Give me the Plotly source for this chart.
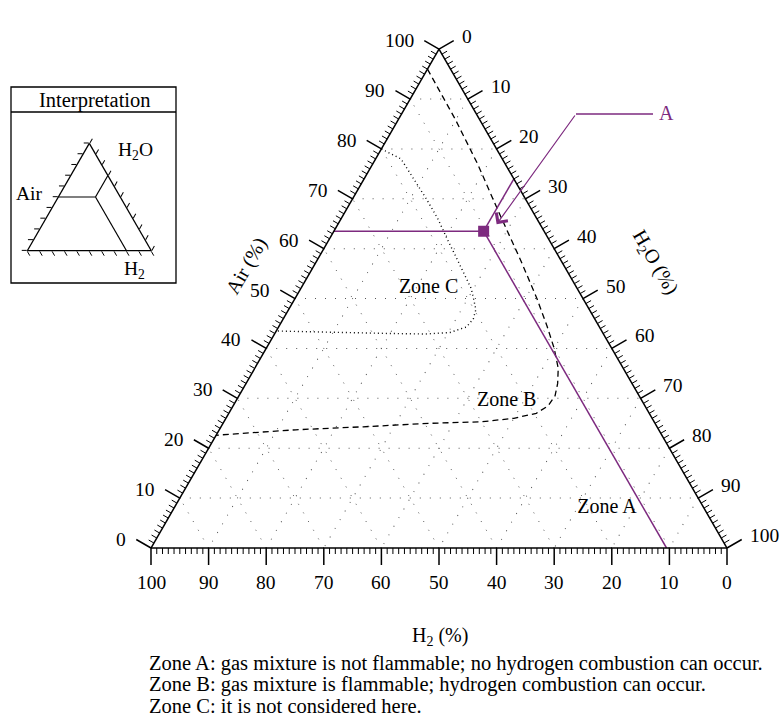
import math
import plotly.graph_objects as go

FIG_W, FIG_H = 781, 718
FONT = "Liberation Serif"
PURPLE = "#7d2a7f"

# Zone B (flammable) boundary: Air % and H2 % (H2O makes up the rest)
zone_b_air = [96, 86, 77, 67, 57.5, 50, 44.5, 40, 36, 33, 30.5, 28.5, 27, 26, 25.3, 25, 24.3, 23.7, 22.8, 22.6]
zone_b_h2 = [4.0, 4.2, 4.8, 6.0, 7.0, 8.0, 9.0, 10.0, 11.3, 12.9, 14.6, 16.8, 19.6, 24, 30, 39, 51, 63, 75, 77.4]

# Zone C boundary: Air % and H2 %
zone_c_air = [80, 78, 74, 70, 66, 62, 58, 54.5, 52, 49.7, 47.8, 45.9, 44.3, 43.2, 42.9, 43.0, 43.5]
zone_c_h2 = [20, 17.6, 17.4, 17.2, 17.2, 17.6, 17.9, 18.2, 18.4, 19.1, 19.7, 21.1, 23.1, 26.5, 31, 37, 56.5]

# Operating point A
point_air = 63.5
point_h2 = 10.5

# Example point of the interpretation sketch
demo_air = 50
demo_h2 = 20

major_ticks = list(range(0, 101, 10))
minor_ticks = [v for v in range(101) if v % 10]
zone_names = ["Zone C", "Zone B", "Zone A"]
notes = [
    "Zone A: gas mixture is not flammable; no hydrogen combustion can occur.",
    "Zone B: gas mixture is flammable; hydrogen combustion can occur.",
    "Zone C: it is not considered here.",
]

SQ3 = math.sqrt(3) / 2


def px(x, y):
    """Pixel position in the page -> paper coordinates."""
    return x / FIG_W, 1 - y / FIG_H


def tri_domain(cx, bottom, width):
    """Domain holding an equilateral triangle of given width, centred at cx."""
    h = width * SQ3
    return dict(
        x=[(cx - width / 2) / FIG_W, (cx + width / 2) / FIG_W],
        y=[(FIG_H - bottom - 0.5) / FIG_H, (FIG_H - bottom + h + 0.5) / FIG_H],
    )


# main triangle geometry (page pixels)
M_CX, M_BOT, M_W = 439, 548, 576
M_H = M_W * SQ3
M_LEFT = M_CX - M_W / 2
main_dom = tri_domain(M_CX, M_BOT, M_W)
# interpretation sketch geometry
I_CX, I_BOT, I_W = 89.3, 250.7, 124
inset_dom = tri_domain(I_CX, I_BOT, I_W)


def tern_px(a, c):
    """Page pixel of a composition on the main triangle (a = Air, c = H2O)."""
    return M_LEFT + M_W * (a / 2 + c) / 100, M_BOT - M_H * a / 100


# edges of the main triangle: point for value v and outward normal (y down)
C30, S30 = math.cos(math.radians(30)), math.sin(math.radians(30))
edges = {
    "air": (lambda v: tern_px(v, 0), (-C30, -S30)),
    "h2o": (lambda v: tern_px(100 - v, v), (C30, -S30)),
    "h2": (lambda v: tern_px(0, 100 - v), (0.0, 1.0)),
}
MAJOR_LEN, MINOR_LEN = 17, 6


def tick_path(values, length):
    parts = []
    for edge_pt, (nx, ny) in edges.values():
        for v in values:
            x0, y0 = edge_pt(v)
            p0 = px(x0, y0)
            p1 = px(x0 + nx * length, y0 + ny * length)
            parts.append(f"M{p0[0]:.5f},{p0[1]:.5f}L{p1[0]:.5f},{p1[1]:.5f}")
    return "".join(parts)


main_axis = dict(tickmode="array", tickvals=list(range(10, 100, 10)), ticks="",
                 showticklabels=False, showgrid=True, gridcolor="#555", gridwidth=1,
                 griddash="1px,9px", showline=True, linecolor="black", linewidth=1.5,
                 title=dict(text=""))
inset_axis = dict(tickmode="linear", tick0=0, dtick=10, ticks="outside", ticklen=5,
                  tickwidth=1.2, tickcolor="black", showticklabels=False, showgrid=False,
                  showline=True, linecolor="black", linewidth=1.3, title=dict(text=""))

fig = go.Figure()

# flammability boundaries
fig.add_trace(go.Scatterternary(
    a=zone_b_air, b=zone_b_h2, mode="lines", hoverinfo="skip",
    line=dict(color="black", width=1.3, dash="6px,4px")))
fig.add_trace(go.Scatterternary(
    a=zone_c_air, b=zone_c_h2, mode="lines", hoverinfo="skip",
    line=dict(color="black", width=1.4, dash="1px,3px")))

# read-off lines through point A
p_h2o = 100 - point_air - point_h2
fig.add_trace(go.Scatterternary(
    a=[point_air, point_air, None, point_air, 100 - p_h2o, None, point_air, 0],
    b=[100 - point_air, point_h2, None, point_h2, 0, None, point_h2, point_h2],
    c=[0, p_h2o, None, p_h2o, p_h2o, None, p_h2o, 100 - point_h2],
    mode="lines", line=dict(color=PURPLE, width=1.5), hoverinfo="skip"))
fig.add_trace(go.Scatterternary(
    a=[point_air], b=[point_h2], c=[p_h2o], mode="markers", hoverinfo="skip",
    marker=dict(symbol="square", size=11, color=PURPLE)))

# zone labels
zone_label_pos = {"Zone C": (52.2, 25.7), "Zone B": (29.5, 23.5), "Zone A": (8.1, 16.8)}
fig.add_trace(go.Scatterternary(
    a=[zone_label_pos[z][0] for z in zone_names],
    b=[zone_label_pos[z][1] for z in zone_names],
    c=[100 - sum(zone_label_pos[z]) for z in zone_names],
    mode="text", text=zone_names, hoverinfo="skip",
    textfont=dict(family=FONT, size=20, color="black")))

# interpretation sketch
d_h2o = 100 - demo_air - demo_h2
fig.add_trace(go.Scatterternary(
    a=[demo_air, demo_air, None, demo_air, 100 - d_h2o, None, demo_air, 0],
    b=[100 - demo_air, demo_h2, None, demo_h2, 0, None, demo_h2, demo_h2],
    c=[0, d_h2o, None, d_h2o, d_h2o, None, d_h2o, 100 - demo_h2],
    mode="lines", subplot="ternary2", line=dict(color="black", width=1.2),
    hoverinfo="skip"))

fig.update_layout(
    width=FIG_W, height=FIG_H, margin=dict(l=0, r=0, t=0, b=0),
    paper_bgcolor="white", showlegend=False, dragmode=False,
    font=dict(family=FONT, size=19, color="black"),
    ternary=dict(sum=100, domain=main_dom, bgcolor="white",
                 aaxis=main_axis, baxis=main_axis, caxis=main_axis),
    ternary2=dict(sum=100, domain=inset_dom, bgcolor="white",
                  aaxis=inset_axis, baxis=inset_axis, caxis=inset_axis),
)

annotations = []


def text_at(x, y, text, size=20, color="black", angle=0, xanchor="center"):
    fx, fy = px(x, y)
    annotations.append(dict(x=fx, y=fy, xref="paper", yref="paper", text=text,
                            showarrow=False, textangle=angle, xanchor=xanchor,
                            yanchor="middle",
                            font=dict(family=FONT, size=size, color=color)))


# tick labels at the end of the major ticks
label_gap = {"air": (-8, 0, "right"), "h2o": (6, -4, "left"), "h2": (0, 17, "center")}
for name, (edge_pt, (nx, ny)) in edges.items():
    gx, gy, anchor = label_gap[name]
    for v in major_ticks:
        x0, y0 = edge_pt(v)
        text_at(x0 + nx * MAJOR_LEN + gx, y0 + ny * MAJOR_LEN + gy, str(v),
                size=19.5, xanchor=anchor)

# axis titles
text_at(440, 636, "H<sub>2</sub> (%)")
text_at(247, 266, "Air (%)", angle=-60)
text_at(655, 262, "H<sub>2</sub>O (%)", angle=60)

# notes under the chart
for i, line in enumerate(notes):
    text_at(147, 663 + 21.5 * i, line, size=20.5, xanchor="left")

# interpretation box
text_at(95, 100, "Interpretation", size=20.5)
text_at(135, 151, "H<sub>2</sub>O", size=19.5)
text_at(29, 194, "Air", size=19.5)
text_at(134, 270, "H<sub>2</sub>", size=19.5)

# callout for point A
mx, my = tern_px(point_air, p_h2o)
tip_x, tip_y = mx + 13, my - 7
elbow_x, elbow_y = 576, 114
tx, ty = px(tip_x, tip_y)
annotations.append(dict(x=tx, y=ty, xref="paper", yref="paper", text="",
                        showarrow=True, axref="pixel", ayref="pixel",
                        ax=elbow_x - tip_x, ay=elbow_y - tip_y,
                        arrowhead=4, arrowsize=2.3, arrowwidth=1.2,
                        arrowcolor=PURPLE, standoff=0, startstandoff=0))
text_at(666, 113, "A", size=20, color=PURPLE)

shapes = [
    dict(type="path", xref="paper", yref="paper", path=tick_path(minor_ticks, MINOR_LEN),
         line=dict(color="black", width=1.0)),
    dict(type="path", xref="paper", yref="paper", path=tick_path(major_ticks, MAJOR_LEN),
         line=dict(color="black", width=1.5)),
]
x0, y0 = px(elbow_x, elbow_y)
x1, y1 = px(653, elbow_y)
shapes.append(dict(type="line", xref="paper", yref="paper", x0=x0, y0=y0, x1=x1, y1=y1,
                   line=dict(color=PURPLE, width=1.3)))
bx0, by0 = px(11, 87)
bx1, by1 = px(176, 283)
shapes.append(dict(type="rect", xref="paper", yref="paper", x0=bx0, y0=by0, x1=bx1, y1=by1,
                   line=dict(color="black", width=1.3), layer="below"))
lx0, ly0 = px(11, 112)
lx1, _ = px(176, 112)
shapes.append(dict(type="line", xref="paper", yref="paper", x0=lx0, y0=ly0, x1=lx1, y1=ly0,
                   line=dict(color="black", width=1.3)))

fig.update_layout(annotations=annotations, shapes=shapes)
fig.write_html("out.html")
